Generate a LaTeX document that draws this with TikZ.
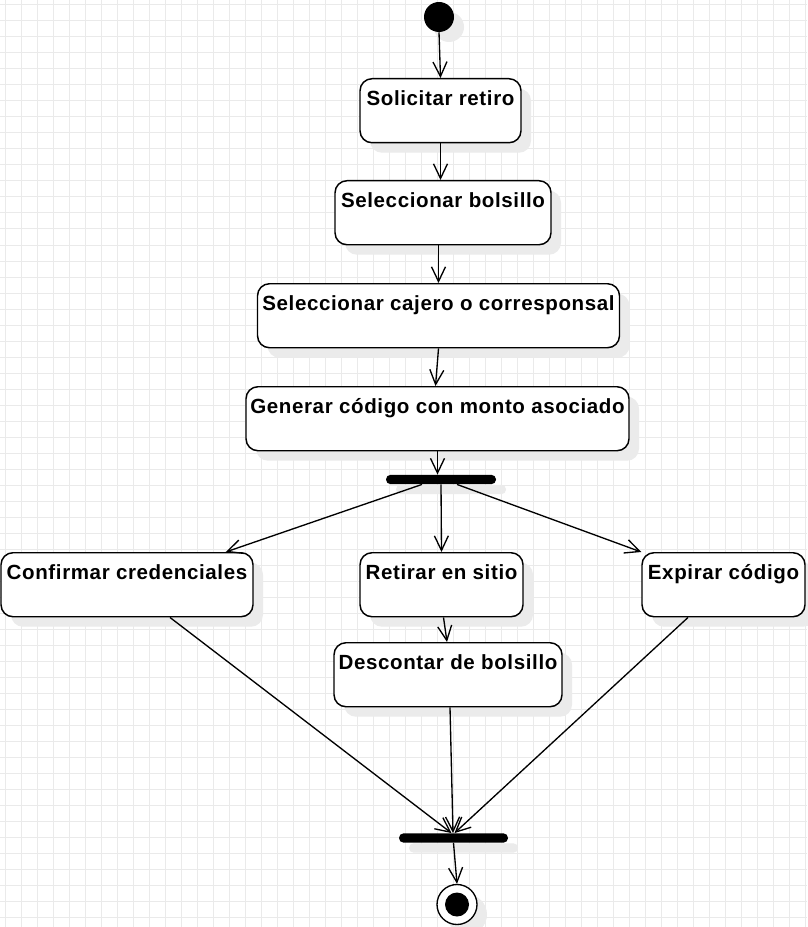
\documentclass[tikz,border=0pt]{standalone}
\usepackage{fontspec}
\setmainfont{Liberation Sans}
\newfontfamily\boxfont[LetterSpace=3.0]{Liberation Sans}
\usetikzlibrary{arrows.meta,shadows}
\definecolor{gridc}{HTML}{EAEAEA}
\definecolor{shad}{HTML}{EBEBEB}
\begin{document}
\begin{tikzpicture}[x=0.75pt,y=-0.75pt,
  shd/.style={general shadow={fill=shad, shadow xshift=7.5pt, shadow yshift=-7.5pt}},
  act/.style={shd, draw, line width=1.1pt, rounded corners=9pt, fill=white, inner sep=0pt,
    text height=20pt, text depth=28pt, anchor=north, minimum width=#1*0.75pt,
    font=\boxfont\bfseries\fontsize{15.4}{18}\selectfont},
  bar/.style={shd, fill=black, rounded corners=3.4pt, inner sep=0pt, minimum height=7pt, minimum width=#1*0.75pt},
  conn/.style={line width=1pt, -{Straight Barb[length=11pt,width=10.5pt]}}
]
\useasboundingbox (0,0) rectangle (807,927);
\fill[white] (0,0) rectangle (807,927);
\foreach \x in {5,21,...,805} \draw[gridc, line width=0.75pt] (\x,0) -- (\x,927);
\foreach \y in {5,21,...,925} \draw[gridc, line width=0.75pt] (0,\y) -- (807,\y);

% initial node
\node[shd, circle, fill=black, inner sep=0pt, minimum size=22.5pt] (init) at (439,17) {};

% actions
\node[act=161] (solicitar) at (440.5,78) {Solicitar retiro};
\node[act=216] (bolsillo) at (443,180) {Seleccionar bolsillo};
\node[act=362] (cajero) at (438.5,283) {Seleccionar cajero o corresponsal};
\node[act=383] (generar) at (437.5,386) {Generar código con monto asociado};
\node[bar=110] (fork) at (441,479.5) {};
\node[act=252] (confirm) at (127,552) {Confirmar credenciales};
\node[act=163] (retirar) at (441.5,552) {Retirar en sitio};
\node[act=163] (expirar) at (723.5,552) {Expirar código};
\node[act=228] (descontar) at (448,642) {Descontar de bolsillo};
\node[bar=109] (join) at (453.5,838) {};

% final node
\node[shd, circle, draw, line width=1pt, fill=white, inner sep=0pt, minimum size=30pt] (final) at (457,904.5) {};
\node[circle, fill=black, inner sep=0pt, minimum size=18pt] (finalin) at (final.center) {};

% connectors
\draw[conn] (init.south) -- (solicitar.north);
\draw[conn] (solicitar.south) -- (solicitar.south |- bolsillo.north);
\draw[conn] (cajero.north |- bolsillo.south) -- (cajero.north);
\draw[conn] (cajero.south) -- ([shift={(-2,0)}]generar.north);
\draw[conn] (generar.south) -- (generar.south |- fork.north);
\draw[conn] ([shift={(-19,0)}]fork.south) -- ([shift={(-28,0)}]confirm.north east);
\draw[conn] (fork.south) -- (retirar.north);
\draw[conn] ([shift={(16,0)}]fork.south) -- (expirar.north west);
\draw[conn] ([shift={(2,0)}]retirar.south) -- ([shift={(-1,0)}]descontar.north);
\draw[conn] ([shift={(43,0)}]confirm.south) -- ([shift={(-2,0)}]join.north);
\draw[conn] ([shift={(2,0)}]descontar.south) -- ([shift={(-0.5,0)}]join.north);
\draw[conn] ([shift={(-35.5,0)}]expirar.south) -- ([shift={(1,0)}]join.north);
\draw[conn] (join.south) -- (final.north);
\end{tikzpicture}
\end{document}
